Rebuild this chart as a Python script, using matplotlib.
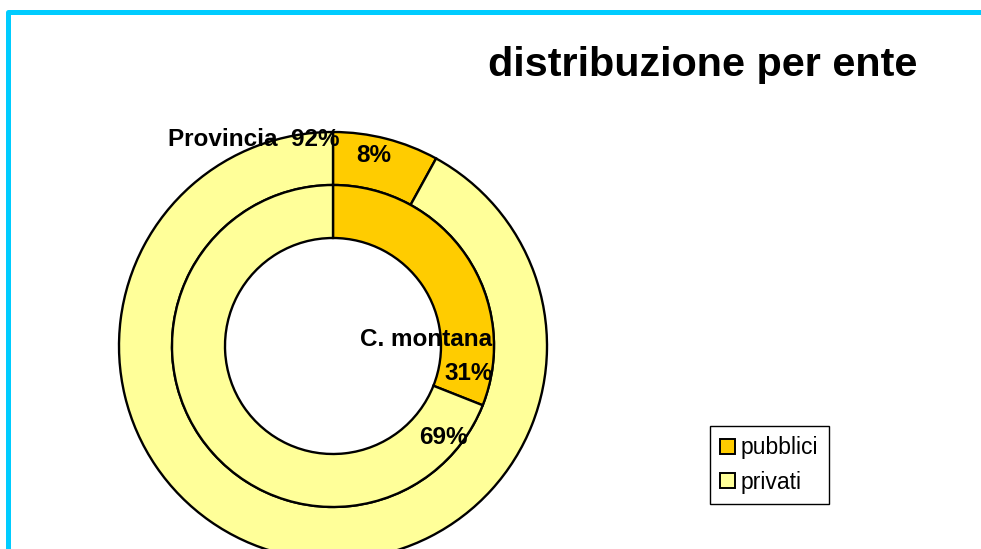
import matplotlib
matplotlib.use("Agg")
import matplotlib.pyplot as plt
from matplotlib.patches import Patch
from matplotlib.lines import Line2D

plt.rcParams['font.family'] = ['Liberation Sans', 'DejaVu Sans']

categories = ["pubblici", "privati"]
provincia = [8, 92]
c_montana = [31, 69]
colors = ["#FFCC00", "#FFFF99"]
title = "distribuzione per ente"

W, H = 981, 549
fig = plt.figure(figsize=(W / 100, H / 100), dpi=100)
ax = fig.add_axes([0, 0, 1, 1])

cx, cy = 333, H - 346
R_out, R_mid, R_in = 214, 161, 108

wp = dict(edgecolor="black", linewidth=1.7)
ax.pie(provincia, colors=colors, startangle=90, counterclock=False,
       radius=R_out, center=(cx, cy), wedgeprops=dict(width=R_out - R_mid, **wp))
ax.pie(c_montana, colors=colors, startangle=90, counterclock=False,
       radius=R_mid, center=(cx, cy), wedgeprops=dict(width=R_mid - R_in, **wp))

ax.set_xlim(0, W)
ax.set_ylim(0, H)
ax.set_aspect('auto')
ax.axis('off')

fs = 17.5
def lbl(x, y, s):
    ax.text(x, H - y, s, ha='center', va='center', fontsize=fs, fontweight='bold')

lbl(254, 139, f"Provincia  {provincia[1]}%")
lbl(374, 156, f"{provincia[0]}%")
lbl(426, 339, "C. montana")
lbl(469, 373, f"{c_montana[0]}%")
lbl(443, 438, f"{c_montana[1]}%")

ax.text(703, H - 65, title, ha='center', va='center', fontsize=29.8, fontweight='bold')

# cyan frame
ax.add_line(Line2D([7.5, 7.5, W + 5], [-5, H - 12, H - 12], color="#00CCFF",
                   linewidth=3.6, solid_joinstyle='round', clip_on=False))

handles = [Patch(facecolor=c, edgecolor='black', linewidth=1.4) for c in colors]
leg = ax.legend(handles, categories, loc='center',
                bbox_to_anchor=(769.5 / W, 1 - 465 / H), bbox_transform=fig.transFigure,
                fancybox=False, edgecolor='black', framealpha=1, fontsize=16.5,
                handlelength=0.65, handleheight=0.65, handletextpad=0.25,
                labelspacing=0.5, borderpad=0.45, borderaxespad=0)
leg.get_frame().set_linewidth(1.0)

fig.savefig("out.png", dpi=100)
